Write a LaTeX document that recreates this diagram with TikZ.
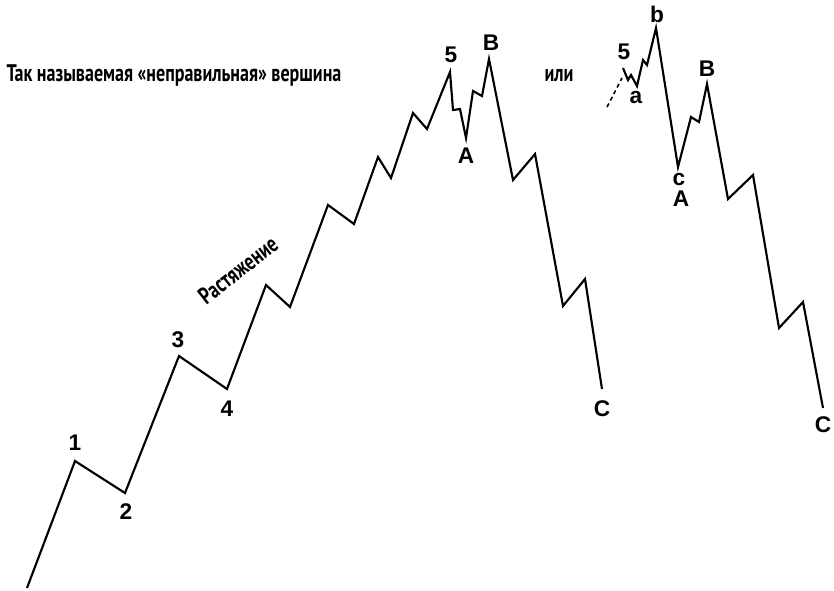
\documentclass[tikz,border=0pt]{standalone}
\usepackage{fontspec}
\setmainfont{Liberation Sans}
\newfontfamily\narrowfont[FakeStretch=0.75]{PT Sans}
\begin{document}
\begin{tikzpicture}[x=0.75pt,y=-0.75pt,
  wave/.style={line width=1.6pt,line join=miter,black},
  lab/.style={font=\bfseries\fontsize{17}{19}\selectfont,inner sep=0pt},
  note/.style={font=\narrowfont\bfseries\fontsize{18}{20}\selectfont,inner sep=0pt,anchor=base}]
\useasboundingbox (0,0) rectangle (834,590);
% Main wave: impulse 1-5, then A-B-C
\coordinate (s0) at (27,588);
\coordinate (p1) at (75,461);
\coordinate (p2) at (125,493);
\coordinate (p3) at (179,356);
\coordinate (p4) at (227,389);
\coordinate (p5) at (450,72);
\coordinate (pA) at (466,138);
\coordinate (pB) at (489,59);
\coordinate (pC) at (602,389);
\draw[wave] (s0)--(p1)--(p2)--(p3)--(p4)--(266,285)--(290,307)--(328,205)--(354,224)
  --(378,157)--(391,178)--(413,113)--(427,129)--(p5)--(453,110)--(460,109)--(pA)
  --(473,91)--(482,96)--(pB)--(513,180)--(535,154)--(563,306)--(585,279)--(pC);
\node[lab] (l1) at (75,443) {1};
\node[lab] (l2) at (126,512) {2};
\node[lab] (l3) at (178,340) {3};
\node[lab] (l4) at (227,409) {4};
\node[lab] (l5) at (451,55) {5};
\node[lab] (lA) at (466,156) {A};
\node[lab] (lB) at (491,43) {B};
\node[lab] (lC) at (602,409) {C};
% Irregular top variant
\coordinate (d0) at (607,107);
\coordinate (q5) at (623,68);
\coordinate (qa) at (637,86);
\coordinate (qb) at (656,28);
\coordinate (qc) at (678,167);
\coordinate (qB) at (707,84);
\coordinate (qC) at (823,408);
\draw[line width=1.2pt,dashed,dash pattern=on 3pt off 2.5pt] (d0)--(622,78);
\draw[wave] (q5)--(628,80)--(631,75)--(qa)--(643,60)--(647,65)--(qb)--(qc)
  --(691,117)--(699,122)--(qB)--(728,199)--(753,175)--(779,328)--(803,302)--(qC);
\node[lab] (m5) at (624,52) {5};
\node[lab] (ma) at (636,98) {a};
\node[lab] (mb) at (657,14) {b};
\node[lab] (mc) at (679,180) {c};
\node[lab] (mA) at (681,199) {A};
\node[lab] (mB) at (707,69) {B};
\node[lab] (mC) at (823,425) {C};
% Captions
\node[note] (title) at (174,81) {Так называемая «неправильная» вершина};
\node[note] (or) at (559,81) {или};
\node[note,anchor=center,rotate=38] (ext) at (238,270) {Растяжение};
\end{tikzpicture}
\end{document}
